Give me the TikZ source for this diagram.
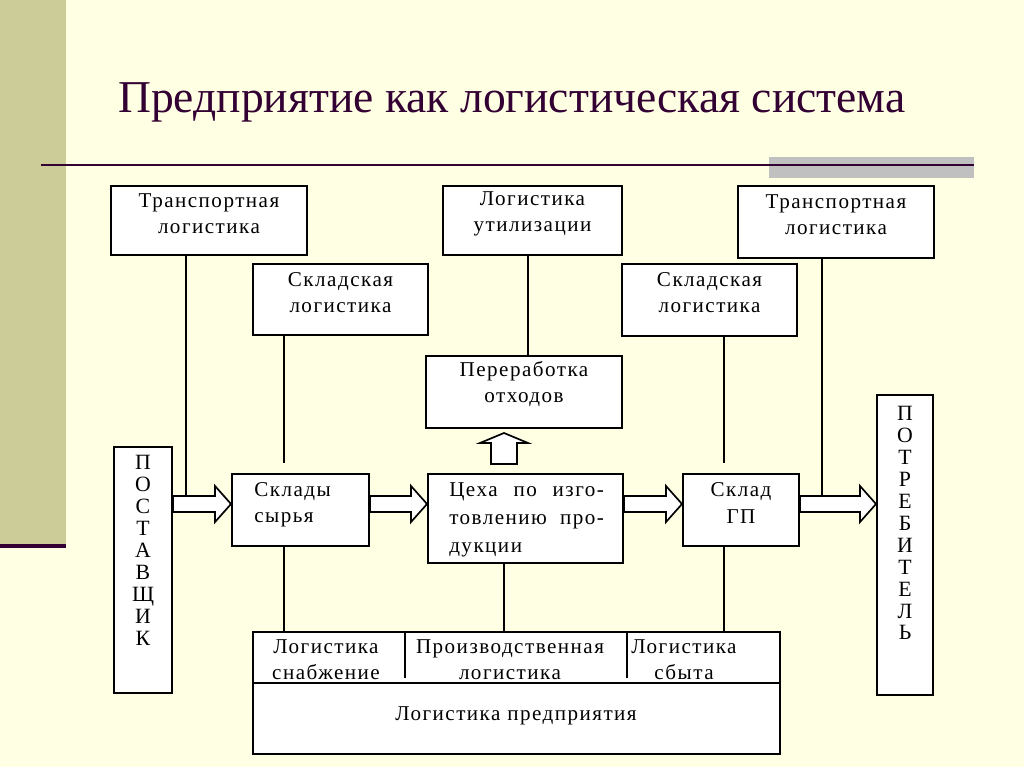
\documentclass[tikz,border=0pt]{standalone}
\usepackage{fontspec}
\setmainfont{Liberation Serif}
\newfontfamily\boxfam[LetterSpace=7]{Liberation Serif}
\usetikzlibrary{calc,fit}

\definecolor{slidebg}{HTML}{FFFFE3}
\definecolor{tanband}{HTML}{CCCC99}
\definecolor{titlecol}{HTML}{330033}
\definecolor{graybar}{HTML}{C0C0C0}

\newcommand{\boxfont}{\boxfam\fontsize{15}{18.5}\selectfont}
\newcommand{\vertfont}{\rmfamily\fontsize{15.5}{15.6}\selectfont}

% block arrows: tail, tip
\newcommand{\harrow}[2]{%
  \draw[blockarrow] ($(#1)+(0,-8)$) -- ($(#2)+(-16,-8)$) -- ($(#2)+(-16,-18)$) -- (#2)
    -- ($(#2)+(-16,18)$) -- ($(#2)+(-16,8)$) -- ($(#1)+(0,8)$) -- cycle;}
\newcommand{\varrow}[2]{%
  \draw[blockarrow] ($(#1)+(-13,0)$) -- ($(#2)+(-13,10)$) -- ($(#2)+(-24,10)$) -- (#2)
    -- ($(#2)+(24,10)$) -- ($(#2)+(13,10)$) -- ($(#1)+(13,0)$) -- cycle;}

\tikzset{
  box/.style={draw, line width=1.4pt, fill=white, inner sep=0pt, align=center, font=\boxfont},
  txt/.style={inner sep=0pt, font=\boxfont},
  link/.style={line width=1.2pt},
  blockarrow/.style={draw, line width=1.2pt, fill=white, line join=miter}
}

\begin{document}
\begin{tikzpicture}[x=0.025cm, y=-0.025cm]
  % slide
  \useasboundingbox (0,0) rectangle (1024,767);
  \fill[slidebg] (0,0) rectangle (1024,767);
  \fill[tanband] (0,0) rectangle (66,545);
  \draw[titlecol, line width=2.8pt] (0,546) -- (66,546);
  \fill[graybar] (769,157) rectangle (974,178);
  \draw[titlecol, line width=2pt] (41,165) -- (974,165);
  \node[anchor=base west, inner sep=0pt, text=titlecol, font=\fontsize{32.4}{40}\selectfont]
    (title) at (118,113) {Предприятие как логистическая система};

  % columns and rows
  \coordinate (c1) at (186,0);
  \coordinate (c2) at (284,0);
  \coordinate (c3) at (504,0);
  \coordinate (c4) at (528,0);
  \coordinate (c5) at (724,0);
  \coordinate (c6) at (822,0);
  \coordinate (row) at (0,504);
  \coordinate (gap) at (0,463);

  % boxes
  \node[box, fit={(111,186) (307,255)}] (trl) {Транспортная\\логистика};
  \node[box, fit={(253,264) (428,335)}] (skl1) {Складская\\логистика};
  \node[box, fit={(443,186) (622,255)}] (util) {Логистика\\утилизации};
  \node[box, fit={(738,186) (934,258)}] (trr) {Транспортная\\логистика};
  \node[box, fit={(622,264) (797,336)}] (skl2) {Складская\\логистика};
  \node[box, fit={(426,356) (622,428)}] (pere) {Переработка\\отходов};
  \node[box, fit={(114,447) (172,693)}] (post) {};
  \node[box, fit={(232,474) (369,546)}] (syr) {};
  \node[box, fit={(428,474) (623,563)}] (ceh) {};
  \node[box, fit={(683,474) (799,546)}] (gp) {Склад\\ГП};
  \node[box, fit={(877,395) (933,695)}] (potr) {};
  \node[box, fit={(253,632) (780,754)}] (ent) {};

  % texts inside
  \node[txt, anchor=north, align=center, font=\vertfont] (postt) at ($(post.north)+(0,9)$)
    {П\\О\\С\\Т\\А\\В\\Щ\\И\\К};
  \node[txt, anchor=north, align=center, font=\vertfont] (potrt) at ($(potr.north)+(0,12)$)
    {П\\О\\Т\\Р\\Е\\Б\\И\\Т\\Е\\Л\\Ь};
  \node[txt, anchor=north west, align=left] (syrt) at (254,482) {Склады\\сырья};
  \node[txt, anchor=north west, align=left, text width=110pt,
    font=\boxfam\fontsize{15}{19.9}\selectfont] (ceht) at (449,482)
    {Цеха\hfill по\hfill изго-\\товлению\hfill про-\\дукции};

  % enterprise box
  \draw[link] (ent.west |- 0,683) -- (ent.east |- 0,683);
  \draw[link] (405,632) -- (405,678);
  \draw[link] (627,632) -- (627,678);
  \node[txt, align=center] (lsn) at (326,660) {Логистика\\снабжение};
  \node[txt, align=center] (lpr) at (510,660) {Производственная\\логистика};
  \node[txt, align=center] (lsb) at (684,660) {Логистика\\сбыта};
  \node[txt] (lent) at (516,716) {Логистика предприятия};

  % links
  \draw[link] (c1 |- trl.south) -- (c1 |- row);
  \draw[link] (c2 |- skl1.south) -- (c2 |- gap);
  \draw[link] (c2 |- syr.south) -- (c2 |- ent.north);
  \draw[link] (c4 |- util.south) -- (c4 |- pere.north);
  \draw[link] (c3 |- ceh.south) -- (c3 |- ent.north);
  \draw[link] (c5 |- skl2.south) -- (c5 |- gap);
  \draw[link] (c5 |- gp.south) -- (c5 |- ent.north);
  \draw[link] (c6 |- trr.south) -- (c6 |- row);

  % flows
  \harrow{post.east |- row}{syr.west |- row}
  \harrow{syr.east |- row}{ceh.west |- row}
  \harrow{ceh.east |- row}{gp.west |- row}
  \harrow{gp.east |- row}{potr.west |- row}
  \coordinate (upt) at ($(c3 |- ceh.north)+(0,-9)$);
  \coordinate (upp) at ($(c3 |- pere.south)+(0,4)$);
  \varrow{upt}{upp}
\end{tikzpicture}
\end{document}
